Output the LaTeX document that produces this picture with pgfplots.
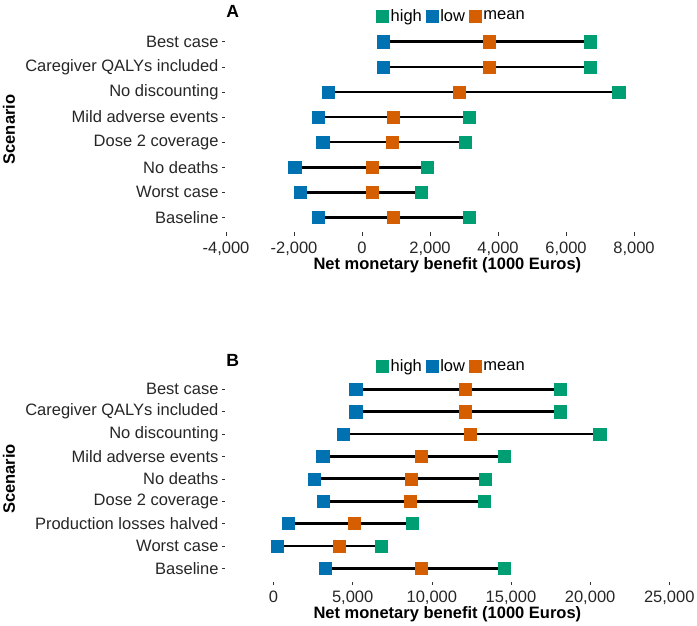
\documentclass[border=0pt]{standalone}
\usepackage{fontspec}
\setmainfont{Liberation Sans}
\usepackage{pgfplots}
\pgfplotsset{compat=1.18}
\usepackage{pgfplotstable}
\definecolor{highc}{HTML}{009E73}
\definecolor{lowc}{HTML}{0072B2}
\definecolor{meanc}{HTML}{D55E00}

\pgfplotstableread{
y low mean high
8 630 3735 6705
7 630 3735 6705
6 -1000 2860 7550
5 -1300 920 3155
4 -1155 880 3030
3 -1980 300 1920
2 -1820 290 1735
1 -1300 920 3155
}\dataA

\pgfplotstableread{
y low mean high
9 5190 12130 18110
8 5190 12130 18110
7 4400 12440 20600
6 3110 9320 14590
5 2580 8690 13370
4 3150 8610 13330
3 940 5110 8750
2 240 4140 6780
1 3270 9320 14590
}\dataB

\pgfplotsset{
  rowplot/.style={
    scale only axis, width=443.8pt, height=205.7pt,
    anchor=south west,
    clip mode=individual,
    axis line style={draw=none},
    xtick pos=bottom, ytick pos=left,
    tick align=outside, major tick length=3.5pt,
    tick style={black!80, line width=0.6pt},
    font=\fontsize{16.5}{19}\selectfont,
    /pgf/number format/assume math mode=true,
    /pgf/number format/1000 sep={,},
    scaled x ticks=false,
    ticklabel style={text=black!85},
    xticklabel style={yshift=-2.5pt},
    xlabel={\bfseries Net monetary benefit (1000 Euros)},
    ylabel={\bfseries Scenario},
    ylabel style={at={(axis description cs:-0.4878,0.5)}, anchor=center},
    xlabel style={anchor=center},
    legend columns=3,
    legend style={draw=none, fill=none, inner sep=0pt, anchor=center,
      font=\fontsize{16.5}{19}\selectfont,
      /tikz/every even column/.append style={column sep=2pt}},
    legend cell align=left,
  },
  sqleg/.style={legend image code/.code={\fill[#1] (0pt,-6pt) rectangle (12pt,6pt);}},
  segs/.style={only marks, mark=none, forget plot,
    error bars/.cd, x dir=both, x explicit, error mark=none,
    error bar style={draw=black, line width=2.7pt}},
  pts/.style={only marks, mark=square*, mark size=6.1pt, forget plot,
    mark options={line width=0.4pt}},
}

\begin{document}
\begin{tikzpicture}
\useasboundingbox (0pt,0pt) rectangle (697pt,-625pt);

\begin{axis}[rowplot,
  at={(225.5pt,-232.4pt)},
  xmin=-4015, xmax=9038, ymin=0.4, ymax=8.6,
  xtick={-4000,-2000,0,2000,4000,6000,8000},
  ytick={1,...,8},
  yticklabels={Baseline,Worst case,No deaths,Dose 2 coverage,Mild adverse events,No discounting,Caregiver QALYs included,Best case},
  xlabel style={at={(axis description cs:0.5,-0.158)}},
  legend style={at={(axis description cs:0.5093,1.052)}},
]
\addplot[segs] table[x=mean, y=y,
  x error plus expr=\thisrow{high}-\thisrow{mean},
  x error minus expr=\thisrow{mean}-\thisrow{low}] {\dataA};
\addplot[pts, color=lowc] table[x=low, y=y] {\dataA};
\addplot[pts, color=meanc] table[x=mean, y=y] {\dataA};
\addplot[pts, color=highc] table[x=high, y=y] {\dataA};
\addlegendimage{sqleg=highc}\addlegendentry{high}
\addlegendimage{sqleg=lowc}\addlegendentry{low}
\addlegendimage{sqleg=meanc}\addlegendentry{mean}
\node[font=\bfseries\fontsize{17.6}{20}\selectfont] at (axis description cs:0.0162,1.076) {A};
\end{axis}

\begin{axis}[rowplot,
  at={(225.5pt,-581.7pt)},
  height=205.8pt,
  xmin=-3034, xmax=25001, ymin=0.4, ymax=9.6,
  xtick={0,5000,10000,15000,20000,25000},
  ytick={1,...,9},
  yticklabels={Baseline,Worst case,Production losses halved,Dose 2 coverage,No deaths,Mild adverse events,No discounting,Caregiver QALYs included,Best case},
  xlabel style={at={(axis description cs:0.5,-0.159)}},
  legend style={at={(axis description cs:0.5093,1.046)}},
]
\addplot[segs] table[x=mean, y=y,
  x error plus expr=\thisrow{high}-\thisrow{mean},
  x error minus expr=\thisrow{mean}-\thisrow{low}] {\dataB};
\addplot[pts, color=lowc] table[x=low, y=y] {\dataB};
\addplot[pts, color=meanc] table[x=mean, y=y] {\dataB};
\addplot[pts, color=highc] table[x=high, y=y] {\dataB};
\addlegendimage{sqleg=highc}\addlegendentry{high}
\addlegendimage{sqleg=lowc}\addlegendentry{low}
\addlegendimage{sqleg=meanc}\addlegendentry{mean}
\node[font=\bfseries\fontsize{17.6}{20}\selectfont] at (axis description cs:0.0162,1.077) {B};
\end{axis}
\end{tikzpicture}
\end{document}
